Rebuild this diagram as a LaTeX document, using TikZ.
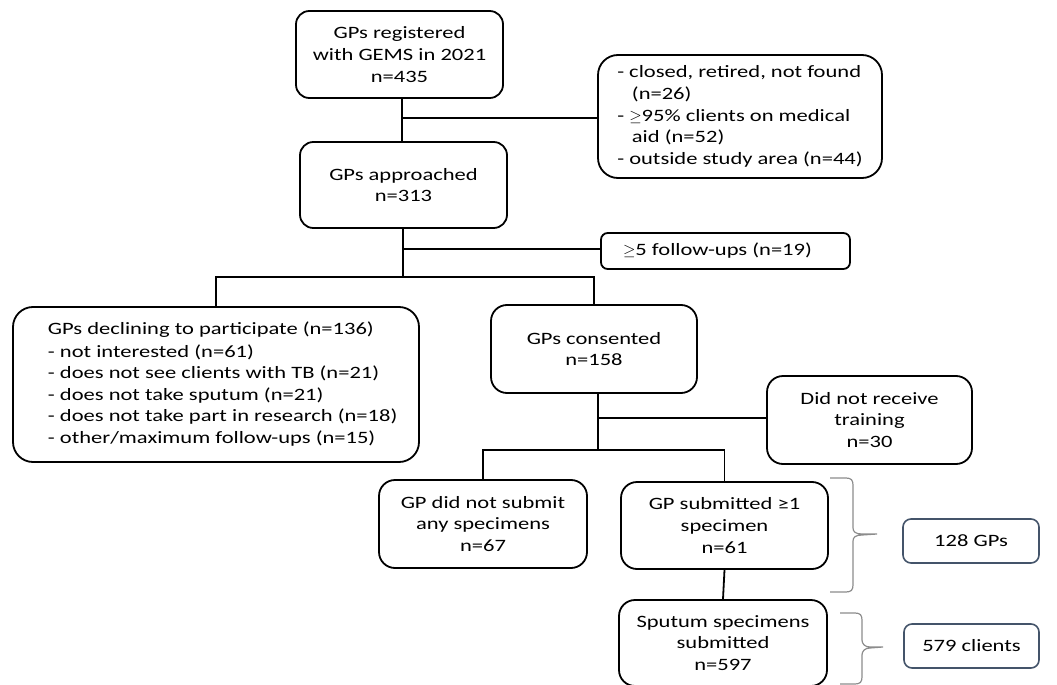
\documentclass[tikz,border=0pt]{standalone}
\usepackage{fontspec}
\setmainfont{Carlito}[FakeStretch=1.3]
\definecolor{noteblue}{HTML}{44546A}
\definecolor{bracegray}{HTML}{8C8C8C}
\begin{document}
\begin{tikzpicture}[x=0.75pt,y=-0.75pt,
  box/.style={draw, line width=1.35pt, rounded corners=10pt, align=center, inner sep=0pt,
    font=\fontsize{13pt}{16.2pt}\selectfont},
  sz/.style 2 args={minimum width=#1*0.75pt, minimum height=#2*0.75pt},
  note/.style={box, draw=noteblue, line width=1.2pt, rounded corners=6pt},
  link/.style={line width=1.35pt},
  bracepath/.style={draw=bracegray, line width=0.9pt}]
\useasboundingbox (0,0) rectangle (1057,685);

\node[box, sz={207}{87}] (reg) at (399.5,54.5) {GPs registered\\with GEMS in 2021\\n=435};
\node[box, sz={284}{123}, rounded corners=15pt, align=left] (excl) at (740,116.5)
  {- closed, retired, not found\\\hspace*{11pt}(n=26)\\- $\geq$95\% clients on medical\\\hspace*{11pt}aid (n=52)\\- outside study area (n=44)};
\node[box, sz={207}{86}] (app) at (403.5,185) {GPs approached\\n=313};
\node[box, sz={249}{36}, rounded corners=5pt] (fu) at (725.5,251) {$\geq$5 follow-ups (n=19)\hspace*{12pt}};
\node[box, sz={406}{155}, rounded corners=15pt, align=left] (decl) at (216,384.5)
  {\hspace*{10pt}\begin{tabular}{@{}l@{}}GPs declining to participate (n=136)\\[1pt]- not interested (n=61)\\- does not see clients with TB (n=21)\\- does not take sputum (n=21)\\- does not take part in research (n=18)\\- other/maximum follow-ups (n=15)\end{tabular}};
\node[box, sz={206}{88}, rounded corners=12pt] (cons) at (594,349) {GPs consented\\n=158};
\node[box, sz={205}{88}, rounded corners=12pt] (dnr) at (869.5,420) {Did not receive\\training\\n=30};
\node[box, sz={208}{88}, rounded corners=12pt] (nosub) at (483,524) {GP did not submit\\any specimens\\n=67};
\node[box, sz={207}{87}, rounded corners=12pt] (sub) at (724.5,525.5) {GP submitted ≥1\\specimen\\n=61};
\node[box, sz={208}{86}, rounded corners=12pt] (sput) at (723,643) {Sputum specimens\\submitted\\n=597};
\node[note, sz={136}{44}] (gps) at (971,541) {128 GPs};
\node[note, sz={135}{44}] (cli) at (971.5,646) {579 clients};

\coordinate (m1) at (402,118);
\coordinate (m2) at (403,249);
\coordinate (s1) at (403,277);
\coordinate (m3) at (598,418);
\coordinate (s2) at (598,450);

\draw[link] (reg.south -| m1) -- (app.north -| m1);
\draw[link] (m1) -- (m1 -| excl.west);
\draw[link] (app.south -| m2) -- (s1);
\draw[link] (m2) -- (m2 -| fu.west);
\draw[link] (decl.north) -- (decl.north |- s1) -- (cons.north |- s1) -- (cons.north);
\draw[link] (cons.south -| m3) -- (s2);
\draw[link] (m3) -- (m3 -| dnr.west);
\draw[link] (nosub.north) -- (nosub.north |- s2) -- (sub.north |- s2) -- (sub.north);
\draw[link] (sub.south) -- (sput.north);

\draw[bracepath] (830,478) -- (846,478) .. controls (851,478) and (853,480) .. (853,485) -- (853,528)
  .. controls (853,532) and (856,534) .. (862,534) -- (877,534)
  -- (862,535) .. controls (856,535) and (853,537) .. (853,541) -- (853,585)
  .. controls (853,590) and (851,592) .. (846,592) -- (830,592);
\draw[bracepath] (840,613) -- (855,613) .. controls (860,613) and (862,615) .. (862,620) -- (862,640)
  .. controls (862,644) and (865,647) .. (870,647) -- (883,647)
  -- (870,648) .. controls (865,648) and (862,651) .. (862,655) -- (862,677)
  .. controls (862,682) and (860,684) .. (855,684) -- (840,684);
\end{tikzpicture}
\end{document}
